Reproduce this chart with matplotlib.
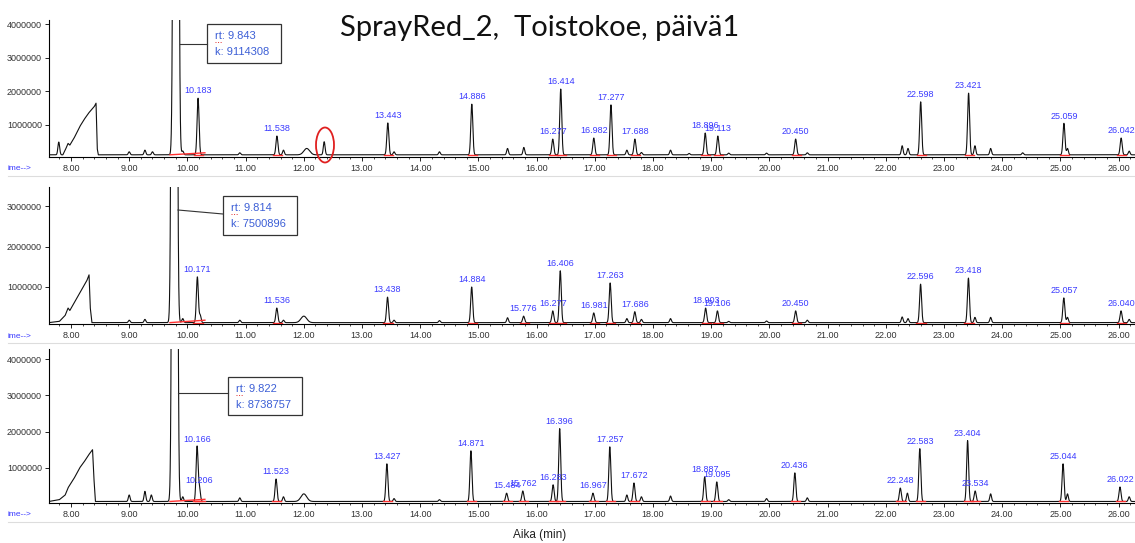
import numpy as np
import matplotlib.pyplot as plt
from matplotlib.patches import Ellipse, Rectangle

plt.rcParams['font.family'] = ['Liberation Sans', 'DejaVu Sans']

W, H = 1135, 543

# --- data (values in millions of counts) ---
# top: SprayRed_2 run 1
top_rt = [10.183, 11.538, 13.443, 14.886, 16.277, 16.414, 16.982, 17.277, 17.688,
          18.896, 19.113, 20.450, 22.598, 23.421, 25.059, 26.042]
top_h = [1.80, 0.67, 1.06, 1.62, 0.58, 2.07, 0.61, 1.60, 0.58,
         0.76, 0.67, 0.58, 1.69, 1.95, 1.05, 0.61]
top_lab = ['10.183', '11.538', '13.443', '14.886', '16.277', '16.414', '16.982', '17.277', '17.688',
           '18.896', '19.113', '20.450', '22.598', '23.421', '25.059', '26.042']
top_small_rt = [7.79, 9.00, 9.27, 9.40, 9.92, 10.90, 11.65, 12.05, 12.35, 13.55, 14.33, 15.50,
                15.78, 17.55, 17.80, 18.30, 18.62, 19.30, 19.95, 20.65, 22.28, 22.38, 23.53,
                23.80, 24.35, 25.12, 26.18]
top_small_h = [0.49, 0.20, 0.25, 0.20, 0.22, 0.17, 0.25, 0.30, 0.50, 0.20, 0.20, 0.30,
               0.33, 0.25, 0.18, 0.25, 0.15, 0.16, 0.16, 0.17, 0.38, 0.30, 0.38,
               0.30, 0.17, 0.30, 0.22]
top_hump_t = [7.62, 7.86, 7.90, 7.95, 7.98, 8.05, 8.15, 8.22, 8.30, 8.40, 8.43, 8.45, 8.47]
top_hump_v = [0.11, 0.11, 0.25, 0.45, 0.40, 0.60, 0.95, 1.15, 1.35, 1.55, 1.65, 0.30, 0.11]
top_base = 0.11

# middle: run 2
mid_rt = [10.171, 11.536, 13.438, 14.884, 15.776, 16.277, 16.406, 16.981, 17.263, 17.686,
          18.903, 19.106, 20.450, 22.596, 23.418, 25.057, 26.040]
mid_h = [1.25, 0.48, 0.75, 1.00, 0.28, 0.41, 1.40, 0.36, 1.10, 0.39,
         0.48, 0.41, 0.41, 1.07, 1.22, 0.73, 0.41]
mid_lab = ['10.171', '11.536', '13.438', '14.884', '15.776', '16.277', '16.406', '16.981', '17.263',
           '17.686', '18.903', '19.106', '20.450', '22.596', '23.418', '25.057', '26.040']
mid_small_rt = [9.00, 9.27, 9.92, 10.22, 10.90, 11.65, 12.00, 13.55, 14.33, 15.50, 17.55, 17.80,
                18.30, 19.30, 19.95, 20.65, 22.28, 22.38, 23.53, 23.80, 25.12, 26.18]
mid_small_h = [0.18, 0.20, 0.22, 0.30, 0.18, 0.18, 0.28, 0.18, 0.17, 0.24, 0.22, 0.20,
               0.22, 0.15, 0.16, 0.18, 0.26, 0.22, 0.25, 0.25, 0.25, 0.20]
mid_hump_t = [7.62, 7.80, 7.90, 7.95, 7.98, 8.05, 8.15, 8.20, 8.27, 8.31, 8.33, 8.36]
mid_hump_v = [0.12, 0.15, 0.30, 0.48, 0.42, 0.60, 0.85, 0.97, 1.15, 1.30, 0.50, 0.12]
mid_base = 0.12

# bottom: run 3
bot_rt = [10.166, 10.206, 11.523, 13.427, 14.871, 15.484, 15.762, 16.283, 16.396, 16.967,
          17.257, 17.672, 18.887, 19.095, 20.436, 22.248, 22.583, 23.404, 23.534, 25.044, 26.022]
bot_h = [1.58, 0.44, 0.69, 1.11, 1.47, 0.30, 0.36, 0.53, 2.08, 0.30,
         1.58, 0.58, 0.75, 0.61, 0.86, 0.44, 1.53, 1.75, 0.36, 1.11, 0.47]
bot_lab = ['10.166', '10.206', '11.523', '13.427', '14.871', '15.484', '15.762', '16.283', '16.396',
           '16.967', '17.257', '17.672', '18.887', '19.095', '20.436', '22.248', '22.583', '23.404',
           '23.534', '25.044', '26.022']
bot_small_rt = [9.00, 9.27, 9.38, 9.92, 10.90, 11.65, 12.00, 13.55, 14.33, 17.55, 17.80, 18.30,
                19.30, 19.95, 20.65, 22.37, 23.80, 25.12, 26.18]
bot_small_h = [0.25, 0.35, 0.25, 0.20, 0.17, 0.20, 0.28, 0.15, 0.12, 0.25, 0.20, 0.22,
               0.12, 0.15, 0.17, 0.30, 0.28, 0.28, 0.20]
bot_hump_t = [7.62, 7.80, 7.90, 7.95, 8.05, 8.15, 8.22, 8.30, 8.37, 8.39, 8.42]
bot_hump_v = [0.07, 0.12, 0.25, 0.45, 0.70, 1.00, 1.15, 1.35, 1.50, 0.80, 0.07]
bot_base = 0.07

solvent_rt = [9.843, 9.814, 9.822]
solvent_k = ['9114308', '7500896', '8738757']


def peak(t, rt, h, w):
    return h * np.exp(-0.5 * ((t - rt) / w) ** 2)


def trace(t, base, rts, hs, srts, shs, ht, hv, srt):
    y = np.full_like(t, base)
    y += np.interp(t, ht, hv) - base
    for r, h in zip(rts, hs):
        y += peak(t, r, h - base, 0.017)
    for r, h in zip(srts, shs):
        w = 0.05 if r in (12.0, 12.05) else 0.015
        y += peak(t, r, h - base, w)
    y += peak(t, srt - 0.04, 80.0, 0.026)
    return y * 1e6


t = np.arange(7.62, 26.30, 0.002)

fig = plt.figure(figsize=(W / 100, H / 100), dpi=100)


def px(x, y):
    return x / W, 1 - y / H


panels = [
    (20, 157, (0.045, 4.13), [1, 2, 3, 4], top_base, top_rt, top_h, top_lab,
     top_small_rt, top_small_h, top_hump_t, top_hump_v, 0),
    (187, 324, (0.086, 3.47), [1, 2, 3], mid_base, mid_rt, mid_h, mid_lab,
     mid_small_rt, mid_small_h, mid_hump_t, mid_hump_v, 1),
    (349, 503, (0.028, 4.28), [1, 2, 3, 4], bot_base, bot_rt, bot_h, bot_lab,
     bot_small_rt, bot_small_h, bot_hump_t, bot_hump_v, 2),
]

axes = []
for (ytop, ybot, ylim, yt, base, rts, hs, labs, srts, shs, ht, hv, i) in panels:
    ax = fig.add_axes([49 / W, 1 - ybot / H, (W - 49) / W, (ybot - ytop) / H])
    y = trace(t, base, rts, hs, srts, shs, ht, hv, solvent_rt[i])
    ax.plot(t, y, color='#111111', lw=0.8)
    # integration baselines
    ax.plot([9.70, 10.30], [base * 1e6, (base + 0.06) * 1e6], color='#ff3030', lw=1.0)
    for r in rts:
        ax.plot([r - 0.07, r + 0.09], [base * 1e6, base * 1e6], color='#ff3030', lw=1.0)
    for r, h, lab in zip(rts, hs, labs):
        ax.annotate(lab, (r, h * 1e6), xytext=(0, 2), textcoords='offset points',
                    ha='center', va='bottom', fontsize=6.5, color='#3a3aff')
    ax.set_xlim(7.622, 26.28)
    ax.set_ylim(ylim[0] * 1e6, ylim[1] * 1e6)
    ax.set_xticks(np.arange(8, 27, 1))
    ax.set_xticks(np.arange(7.8, 26.3, 0.2), minor=True)
    ax.set_xticklabels(['%.2f' % v for v in np.arange(8, 27, 1)])
    ax.set_yticks([v * 1e6 for v in yt])
    ax.set_yticklabels(['%d' % (v * 1000000) for v in yt])
    ax.tick_params(axis='both', labelsize=6.5, labelcolor='#333333', length=3, width=0.6, pad=2)
    ax.tick_params(axis='x', which='minor', length=1.5, width=0.5)
    for s in ['top', 'right']:
        ax.spines[s].set_visible(False)
    for s in ['left', 'bottom']:
        ax.spines[s].set_linewidth(0.8)
    ax.patch.set_alpha(0)
    fig.text(*px(8, ybot + 12), 'ime-->', fontsize=6, color='#3a3aff', va='center')
    fig.add_artist(plt.Line2D([8 / W, 1], [1 - (ybot + 19) / H] * 2, color='#dddddd', lw=0.8))
    axes.append(ax)

# info boxes for the solvent peak
boxes = [(207, 24, 74, 39, 180, 44, 44), (223, 196, 74, 39, 178, 210, 214),
         (228, 377, 74, 38, 178, 393, 393)]
for i, (bx, by, bw, bh, lx, ly0, ly1) in enumerate(boxes):
    fig.add_artist(Rectangle(px(bx, by + bh), bw / W, bh / H, transform=fig.transFigure,
                             fill=True, facecolor='white', edgecolor='#333333', lw=0.9))
    fig.add_artist(plt.Line2D([lx / W, bx / W], [1 - ly0 / H, 1 - ly1 / H],
                              color='#333333', lw=0.8))
    fig.text(*px(bx + 8, by + 12), 'rt: %.3f' % solvent_rt[i], fontsize=8,
             color='#3c5fd6', va='center')
    fig.text(*px(bx + 8, by + 28), 'k: ' + solvent_k[i], fontsize=8,
             color='#3c5fd6', va='center')
    fig.add_artist(plt.Line2D([(bx + 8) / W, (bx + 15) / W], [1 - (by + 18) / H] * 2,
                              color='#e03030', lw=0.7, ls=':'))

# red circle around the small peak in the top run
fig.add_artist(Ellipse(px(325, 145), 18 / W, 35 / H, transform=fig.transFigure,
                       fill=False, edgecolor='#e02020', lw=1.3))

fig.text(*px(540, 28), 'SprayRed_2,  Toistokoe, päivä1', fontsize=21, family='Lato',
         ha='center', va='center', color='#111111')
fig.text(*px(540, 535), 'Aika (min)', fontsize=8.5, ha='center', va='center', color='#222222')

fig.savefig('out.png', dpi=100)
